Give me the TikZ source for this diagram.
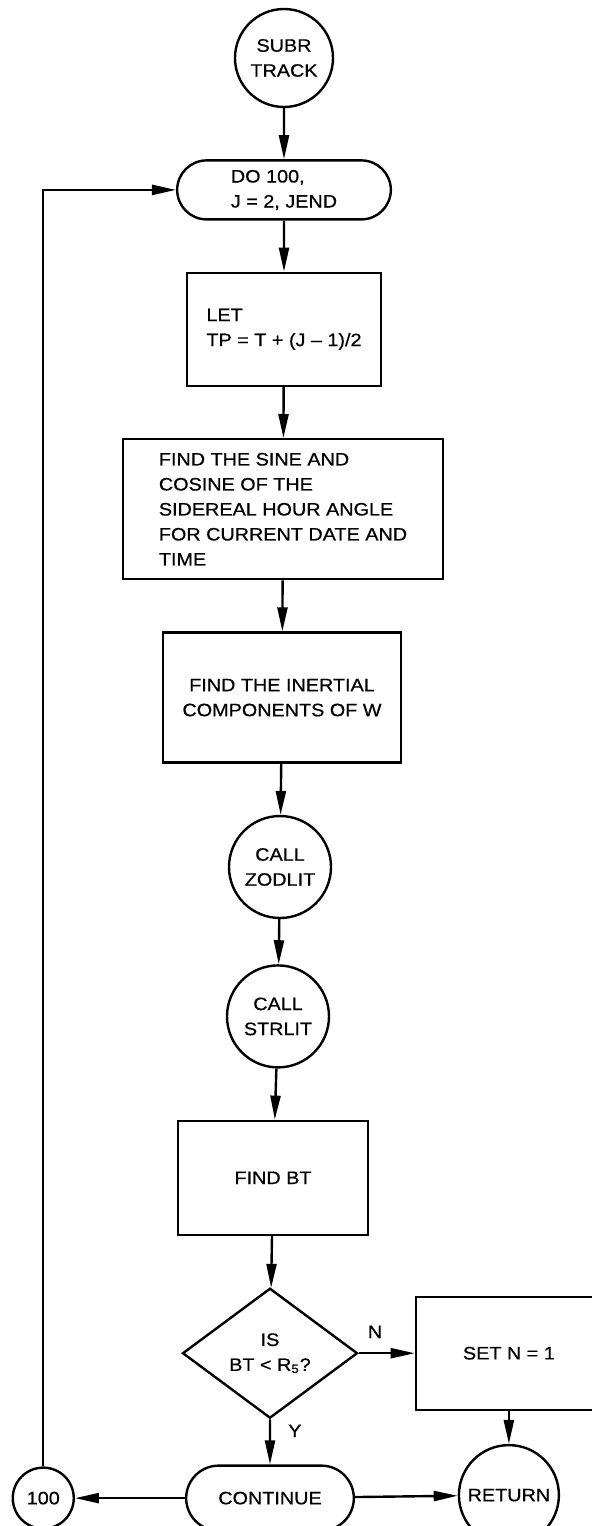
\documentclass[tikz,border=0pt]{standalone}
\usepackage{fontspec}
\setmainfont{Liberation Sans}[FakeStretch=1.1, FakeBold=0.6]
\usetikzlibrary{positioning,shapes.geometric,shapes.misc,arrows.meta}

\begin{document}
\begin{tikzpicture}[x=0.5pt, y=-0.5pt, node distance=25.5pt, line width=1.2pt,
  >={Triangle[length=12pt,width=5pt]},
  every node/.style={font=\fontsize{9}{12.5}\selectfont, align=center},
  proc/.style={draw, rectangle},
  term/.style={draw, rounded rectangle},
  conn/.style={draw, circle, inner sep=0pt},
  decision/.style={draw, diamond, inner sep=0pt},
  lbl/.style={inner sep=0pt}]
\useasboundingbox (0,0) rectangle (591,1526);

% main column
\node[conn, minimum size=49pt] (subr) at (284,58) {SUBR\\TRACK};
\node[term, minimum width=113.5pt, minimum height=29.5pt, below=of subr, align=left] (do) {DO 100,\\J = 2, JEND};
\node[proc, minimum width=97pt, minimum height=56.5pt, below=of do, align=left] (let) {LET\\TP = T + (J – 1)/2};
\node[proc, minimum width=160pt, minimum height=70pt, below=of let, xshift=-0.5pt, align=left] (sine) {FIND THE SINE AND\\COSINE OF THE\\SIDEREAL HOUR ANGLE\\FOR CURRENT DATE AND\\TIME};
\node[proc, minimum width=119pt, minimum height=65pt, below=of sine, xshift=-0.5pt] (inert) {FIND THE INERTIAL\\COMPONENTS OF W};
\node[conn, minimum size=51pt, below=of inert, xshift=-1pt] (zod) {CALL\\ZODLIT};
\node[conn, minimum size=51pt, below=22.5pt of zod, xshift=-1pt] (str) {CALL\\STRLIT};
\node[proc, minimum width=95pt, minimum height=57pt, below=of str, xshift=-2.5pt] (bt) {FIND BT};
\node[decision, minimum width=87.5pt, minimum height=65pt, below=of bt, xshift=-1.5pt] (isbt) {IS\\BT < R\textsubscript{5}?};
\node[term, minimum width=90.5pt, minimum height=32.5pt, below=22.5pt of isbt] (cont) {CONTINUE};

% branches
\node[proc, minimum width=93pt, minimum height=56.5pt, right=28pt of isbt] (setn) {SET N = 1};
\node[conn, minimum size=50pt, below=16.5pt of setn] (ret) {RETURN};
\node[conn, minimum size=30.5pt, left=55pt of cont] (c100) {100};

\node[lbl, above right=7pt and 4pt of isbt.east] (nlab) {N};
\node[lbl, below right=2pt and 8.5pt of isbt.south] (ylab) {Y};

\draw[->] (subr) -- (do);
\draw[->] (do) -- (let);
\draw[->] (let) -- (sine);
\draw[->] (sine) -- (inert);
\draw[->] (inert) -- (zod);
\draw[->] (zod) -- (str);
\draw[->] (str) -- (bt);
\draw[->] (bt) -- (isbt);
\draw[->] (isbt) -- (cont);
\draw[->] (isbt) -- (setn);
\draw[->] (setn) -- (ret);
\draw[->] (cont) -- (c100);
\draw[->] (cont) -- (ret);
\draw[->] (c100) |- (do);
\end{tikzpicture}
\end{document}
